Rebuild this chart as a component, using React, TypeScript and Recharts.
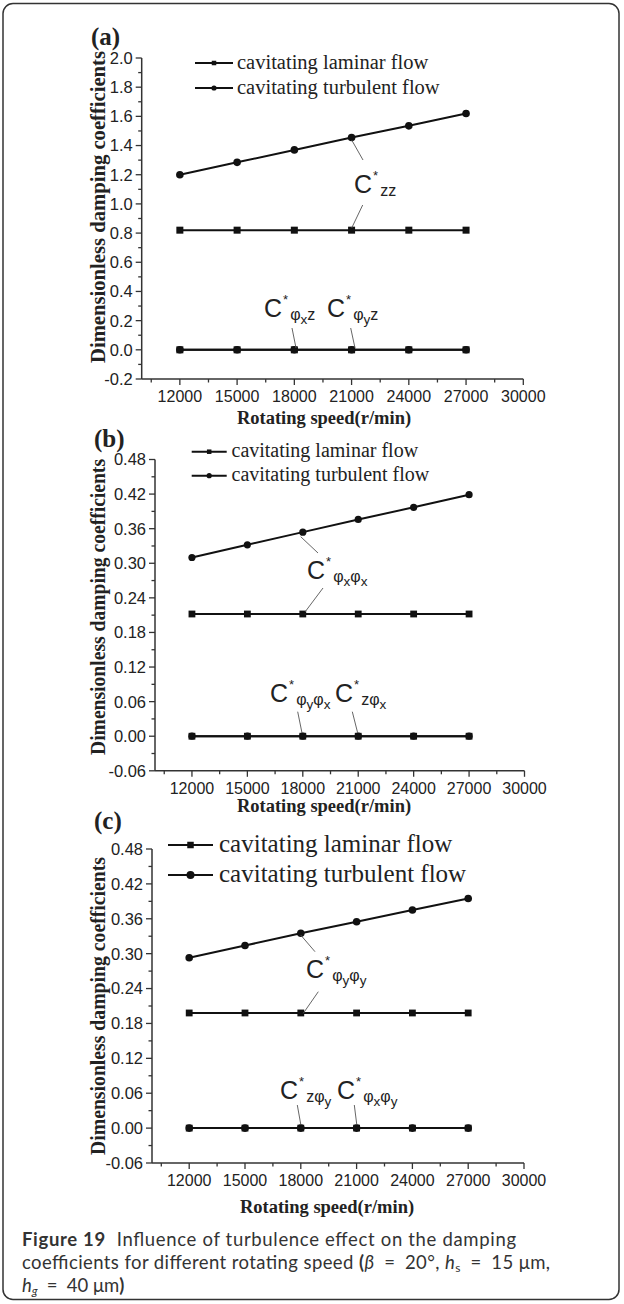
import React from "react";
import { LineChart, Line, XAxis, YAxis } from "recharts";

const SPEED = [12000, 15000, 18000, 21000, 24000, 27000];

const A_LAMINAR = [0.82, 0.82, 0.82, 0.82, 0.82, 0.82];
const A_TURBULENT = [1.2, 1.285, 1.37, 1.455, 1.535, 1.62];
const A_LAMINAR_CROSS = [0, 0, 0, 0, 0, 0];
const A_TURBULENT_CROSS = [0, 0, 0, 0, 0, 0];

const B_LAMINAR = [0.212, 0.212, 0.212, 0.212, 0.212, 0.212];
const B_TURBULENT = [0.31, 0.332, 0.354, 0.376, 0.397, 0.419];
const B_LAMINAR_CROSS = [0, 0, 0, 0, 0, 0];
const B_TURBULENT_CROSS = [0, 0, 0, 0, 0, 0];

const C_LAMINAR = [0.198, 0.198, 0.198, 0.198, 0.198, 0.198];
const C_TURBULENT = [0.293, 0.314, 0.335, 0.355, 0.375, 0.395];
const C_LAMINAR_CROSS = [0, 0, 0, 0, 0, 0];
const C_TURBULENT_CROSS = [0, 0, 0, 0, 0, 0];

const X_MAJOR = [12000, 15000, 18000, 21000, 24000, 27000, 30000];
const X_MINOR = [10500, 13500, 16500, 19500, 22500, 25500, 28500];

const Y_MAJOR_A = [-0.2, 0, 0.2, 0.4, 0.6, 0.8, 1.0, 1.2, 1.4, 1.6, 1.8, 2.0];
const Y_MINOR_A = [-0.1, 0.1, 0.3, 0.5, 0.7, 0.9, 1.1, 1.3, 1.5, 1.7, 1.9];
const Y_MAJOR_BC = [-0.06, 0, 0.06, 0.12, 0.18, 0.24, 0.3, 0.36, 0.42, 0.48];
const Y_MINOR_BC = [-0.03, 0.03, 0.09, 0.15, 0.21, 0.27, 0.33, 0.39, 0.45];

const LEGEND = ["cavitating laminar flow", "cavitating turbulent flow"];

const W = 624;
const INK = "#222";
const SANS = "'Liberation Sans', Arial, sans-serif";
const SERIF = "'Liberation Serif', 'Times New Roman', serif";

const rows = (lam: number[], tur: number[], lam0: number[], tur0: number[]) =>
  SPEED.map((s, i) => ({ speed: s, lam: lam[i], tur: tur[i], lam0: lam0[i], tur0: tur0[i] }));

const isIn = (v: number, list: number[]) => list.some((m) => Math.abs(m - v) < 1e-6);

const squareDot = (size: number) => (p: any) => {
  if (p.cx == null || p.cy == null) return <g key={p.index} />;
  return <rect key={p.index} x={p.cx - size / 2} y={p.cy - size / 2} width={size} height={size} fill="#111" />;
};

const circleDot = (r: number) => (p: any) => {
  if (p.cx == null || p.cy == null) return <g key={p.index} />;
  return <circle key={p.index} cx={p.cx} cy={p.cy} r={r} fill="#111" />;
};

type PanelProps = {
  top: number;
  height: number;
  plot: { left: number; right: number; top: number; bottom: number };
  data: any[];
  yDomain: [number, number];
  yMajor: number[];
  yMinor: number[];
  digits: number;
  yFont: number;
  sq: number;
  cr: number;
  circlesOnTop: boolean;
};

const Panel = (pp: PanelProps) => {
  const { top, height, plot, data, yDomain, yMajor, yMinor, digits, yFont, sq, cr, circlesOnTop } = pp;
  const yw = 50;
  const xh = 40;
  const margin = {
    top: plot.top - top,
    right: W - plot.right,
    left: plot.left - yw,
    bottom: top + height - plot.bottom - xh,
  };
  const yTicks = [...yMajor, ...yMinor].sort((a, b) => a - b);
  const xTicks = [...X_MAJOR, ...X_MINOR].sort((a, b) => a - b);

  const yTick = (p: any) => {
    const v = p.payload.value;
    const major = isIn(v, yMajor);
    return (
      <g>
        <line x1={p.x - (major ? 6 : 3.5)} x2={p.x} y1={p.y} y2={p.y} stroke="#333" strokeWidth={1.3} />
        {major && (
          <text x={p.x - 9} y={p.y + yFont * 0.36} textAnchor="end" fontFamily={SANS} fontSize={yFont} fill={INK}>
            {Math.abs(v) < 1e-9 ? (0).toFixed(digits) : v.toFixed(digits)}
          </text>
        )}
      </g>
    );
  };

  const xTick = (p: any) => {
    const v = p.payload.value;
    const major = isIn(v, X_MAJOR);
    return (
      <g>
        <line x1={p.x} x2={p.x} y1={p.y} y2={p.y + (major ? 6 : 3.5)} stroke="#333" strokeWidth={1.3} />
        {major && (
          <text x={p.x} y={p.y + 23} textAnchor="middle" fontFamily={SANS} fontSize={16} fill={INK}>
            {v}
          </text>
        )}
      </g>
    );
  };

  const lamLines = [
    <Line key="lam" dataKey="lam" stroke="#111" strokeWidth={2} dot={squareDot(sq)} isAnimationActive={false} />,
    <Line key="lam0" dataKey="lam0" stroke="#111" strokeWidth={2} dot={squareDot(sq)} isAnimationActive={false} />,
  ];
  const turLines = [
    <Line key="tur" dataKey="tur" stroke="#111" strokeWidth={2} dot={circleDot(cr)} isAnimationActive={false} />,
    <Line key="tur0" dataKey="tur0" stroke="#111" strokeWidth={2} dot={circleDot(cr)} isAnimationActive={false} />,
  ];

  return (
    <div style={{ position: "absolute", left: 0, top, width: W, height }}>
      <LineChart width={W} height={height} data={data} margin={margin}>
        <XAxis
          type="number"
          dataKey="speed"
          domain={[10000, 30000]}
          ticks={xTicks}
          interval={0}
          tickSize={0}
          tickMargin={0}
          tickLine={false}
          height={xh}
          allowDataOverflow
          axisLine={{ stroke: "#333", strokeWidth: 1.5 }}
          tick={xTick}
        />
        <YAxis
          type="number"
          domain={yDomain}
          ticks={yTicks}
          interval={0}
          tickSize={0}
          tickMargin={0}
          tickLine={false}
          width={yw}
          allowDataOverflow
          axisLine={{ stroke: "#333", strokeWidth: 1.5 }}
          tick={yTick}
        />
        {circlesOnTop ? [...lamLines, ...turLines] : [...turLines, ...lamLines]}
      </LineChart>
    </div>
  );
};

type Part = [string, number];

// C* with nested subscripts; level 1 = subscript, level 2 = sub-subscript
const Coef = ({ x, y, parts }: { x: number; y: number; parts: Part[] }) => {
  let level = 0;
  const out: React.ReactNode[] = [];
  out.push(
    <tspan key="c" fontSize={25}>
      C
    </tspan>
  );
  out.push(
    <tspan key="s" fontSize={13} dy={-13} dx={1}>
      *
    </tspan>
  );
  let dy = 13 + 3;
  parts.forEach(([t, lv], i) => {
    const shift = lv === 1 ? 0 : 4;
    const d = dy + (shift - (level === 2 ? 4 : 0));
    out.push(
      <tspan key={i} fontSize={lv === 1 ? 16 : 13.5} dy={d} dx={i === 0 ? 2 : 0}>
        {t}
      </tspan>
    );
    dy = 0;
    level = lv;
  });
  return (
    <text x={x} y={y} fontFamily={SANS} fill={INK}>
      {out}
    </text>
  );
};

const Leader = ({ x1, y1, x2, y2 }: { x1: number; y1: number; x2: number; y2: number }) => (
  <line x1={x1} y1={y1} x2={x2} y2={y2} stroke="#555" strokeWidth={0.9} />
);

const LegendBox = ({ x1, x2, y1, y2, tx, font, sq, cr }: any) => (
  <g>
    <line x1={x1} x2={x2} y1={y1} y2={y1} stroke="#111" strokeWidth={2} />
    <rect x={(x1 + x2) / 2 - sq / 2} y={y1 - sq / 2} width={sq} height={sq} fill="#111" />
    <text x={tx} y={y1 + font * 0.28} fontFamily={SERIF} fontSize={font} fill={INK}>
      {LEGEND[0]}
    </text>
    <line x1={x1} x2={x2} y1={y2} y2={y2} stroke="#111" strokeWidth={2} />
    <circle cx={(x1 + x2) / 2} cy={y2} r={cr} fill="#111" />
    <text x={tx} y={y2 + font * 0.28} fontFamily={SERIF} fontSize={font} fill={INK}>
      {LEGEND[1]}
    </text>
  </g>
);

const YTitle = ({ cx, cy, len }: { cx: number; cy: number; len: number }) => (
  <text
    x={cx}
    y={cy}
    transform={`rotate(-90 ${cx} ${cy})`}
    textAnchor="middle"
    dominantBaseline="central"
    fontFamily={SERIF}
    fontWeight="bold"
    fontSize={20}
    textLength={len}
    lengthAdjust="spacingAndGlyphs"
    fill={INK}
  >
    Dimensionless damping coefficients
  </text>
);

const XTitle = ({ cx, y }: { cx: number; y: number }) => (
  <text x={cx} y={y} textAnchor="middle" fontFamily={SERIF} fontWeight="bold" fontSize={18.5} fill={INK}>
    Rotating speed(r/min)
  </text>
);

const Tag = ({ x, y, t }: { x: number; y: number; t: string }) => (
  <text x={x} y={y} fontFamily={SERIF} fontWeight="bold" fontSize={25} fill={INK}>
    {t}
  </text>
);

export default function App() {
  const capFont = "Lato, 'Noto Sans', sans-serif";
  return (
    <div style={{ position: "absolute", left: 0, top: 0, width: W, height: 1304, background: "#fff" }}>
      <Panel
        top={0}
        height={430}
        plot={{ left: 141.7, right: 523.3, top: 58, bottom: 379 }}
        data={rows(A_LAMINAR, A_TURBULENT, A_LAMINAR_CROSS, A_TURBULENT_CROSS)}
        yDomain={[-0.2, 2.0]}
        yMajor={Y_MAJOR_A}
        yMinor={Y_MINOR_A}
        digits={1}
        yFont={16.5}
        sq={7}
        cr={3.8}
        circlesOnTop={false}
      />
      <Panel
        top={430}
        height={400}
        plot={{ left: 155, right: 524.5, top: 459.5, bottom: 770.8 }}
        data={rows(B_LAMINAR, B_TURBULENT, B_LAMINAR_CROSS, B_TURBULENT_CROSS)}
        yDomain={[-0.06, 0.48]}
        yMajor={Y_MAJOR_BC}
        yMinor={Y_MINOR_BC}
        digits={2}
        yFont={16.5}
        sq={6.8}
        cr={3.6}
        circlesOnTop={false}
      />
      <Panel
        top={830}
        height={400}
        plot={{ left: 152, right: 524, top: 849, bottom: 1163 }}
        data={rows(C_LAMINAR, C_TURBULENT, C_LAMINAR_CROSS, C_TURBULENT_CROSS)}
        yDomain={[-0.06, 0.48]}
        yMajor={Y_MAJOR_BC}
        yMinor={Y_MINOR_BC}
        digits={2}
        yFont={16.5}
        sq={6.8}
        cr={3.8}
        circlesOnTop={true}
      />
      <svg width={W} height={1304} style={{ position: "absolute", left: 0, top: 0, pointerEvents: "none" }}>
        <rect x={3} y={3.5} width={616} height={1296} rx={10} fill="none" stroke="#333" strokeWidth={1.5} />

        {/* panel (a) */}
        <Tag x={91} y={45} t="(a)" />
        <YTitle cx={98} cy={207} len={312} />
        <XTitle cx={324} y={424} />
        <LegendBox x1={195} x2={233} y1={63} y2={88} tx={237} font={20.5} sq={4.5} cr={2.6} />
        <Leader x1={351.7} y1={140} x2={363} y2={160} />
        <Coef x={354} y={193} parts={[["zz", 1]]} />
        <Leader x1={362.7} y1={205} x2={351.7} y2={228} />
        <Coef x={264} y={317} parts={[["φ", 1], ["x", 2], ["z", 1]]} />
        <Leader x1={292} y1={328} x2={296} y2={348} />
        <Coef x={327} y={317} parts={[["φ", 1], ["y", 2], ["z", 1]]} />
        <Leader x1={350.7} y1={328} x2={355} y2={348} />

        {/* panel (b) */}
        <Tag x={94} y={447} t="(b)" />
        <YTitle cx={98} cy={607} len={296} />
        <XTitle cx={324} y={812} />
        <LegendBox x1={191.7} x2={226.7} y1={451.7} y2={475.7} tx={231.5} font={20} sq={4.5} cr={2.6} />
        <Leader x1={300.7} y1={536.7} x2={318} y2={553} />
        <Coef x={307} y={579} parts={[["φ", 1], ["x", 2], ["φ", 1], ["x", 2]]} />
        <Leader x1={323} y1={588} x2={305} y2={612} />
        <Coef x={270} y={702} parts={[["φ", 1], ["y", 2], ["φ", 1], ["x", 2]]} />
        <Leader x1={297.7} y1={711.7} x2={302} y2={733} />
        <Coef x={335} y={702} parts={[["z", 1], ["φ", 1], ["x", 2]]} />
        <Leader x1={352.3} y1={711.7} x2={357.7} y2={733} />

        {/* panel (c) */}
        <Tag x={94} y={829} t="(c)" />
        <YTitle cx={98} cy={1006} len={298} />
        <XTitle cx={327} y={1213} />
        <LegendBox x1={168} x2={213} y1={845} y2={875} tx={219} font={25} sq={6.5} cr={4} />
        <Leader x1={300.7} y1={935} x2={315} y2={951.7} />
        <Coef x={306} y={978} parts={[["φ", 1], ["y", 2], ["φ", 1], ["y", 2]]} />
        <Leader x1={318.3} y1={991.7} x2={303.3} y2={1013.3} />
        <Coef x={280} y={1099} parts={[["z", 1], ["φ", 1], ["y", 2]]} />
        <Leader x1={297.3} y1={1105} x2={300.7} y2={1124} />
        <Coef x={337} y={1099} parts={[["φ", 1], ["x", 2], ["φ", 1], ["y", 2]]} />
        <Leader x1={354.3} y1={1105} x2={356.7} y2={1124} />

        {/* caption */}
        <text x={22} y={1246} fontFamily={capFont} fontSize={18.5} fill="#333" textLength={494}>
          <tspan fontWeight="bold">Figure 19</tspan>
          <tspan>{"\u00a0 Influence of turbulence effect on the damping"}</tspan>
        </text>
        <text x={22} y={1269} fontFamily={capFont} fontSize={18.5} fill="#333" textLength={528}>
          <tspan>coefficients for different rotating speed </tspan>
          <tspan fontWeight="bold">(</tspan>
          <tspan fontStyle="italic">β</tspan>
          <tspan>{"\u2002=\u2002"}20°, </tspan>
          <tspan fontStyle="italic">h</tspan>
          <tspan fontSize={12} dy={3}>s</tspan>
          <tspan dy={-3}>{"\u2002=\u2002"}15 μm,</tspan>
        </text>
        <text x={22} y={1292} fontFamily={capFont} fontSize={18.5} fill="#333">
          <tspan fontStyle="italic">h</tspan>
          <tspan fontSize={12} fontStyle="italic" dy={3}>g</tspan>
          <tspan dy={-3}>{"\u2002=\u2002"}40 μm</tspan>
          <tspan fontWeight="bold">)</tspan>
        </text>
      </svg>
    </div>
  );
}
